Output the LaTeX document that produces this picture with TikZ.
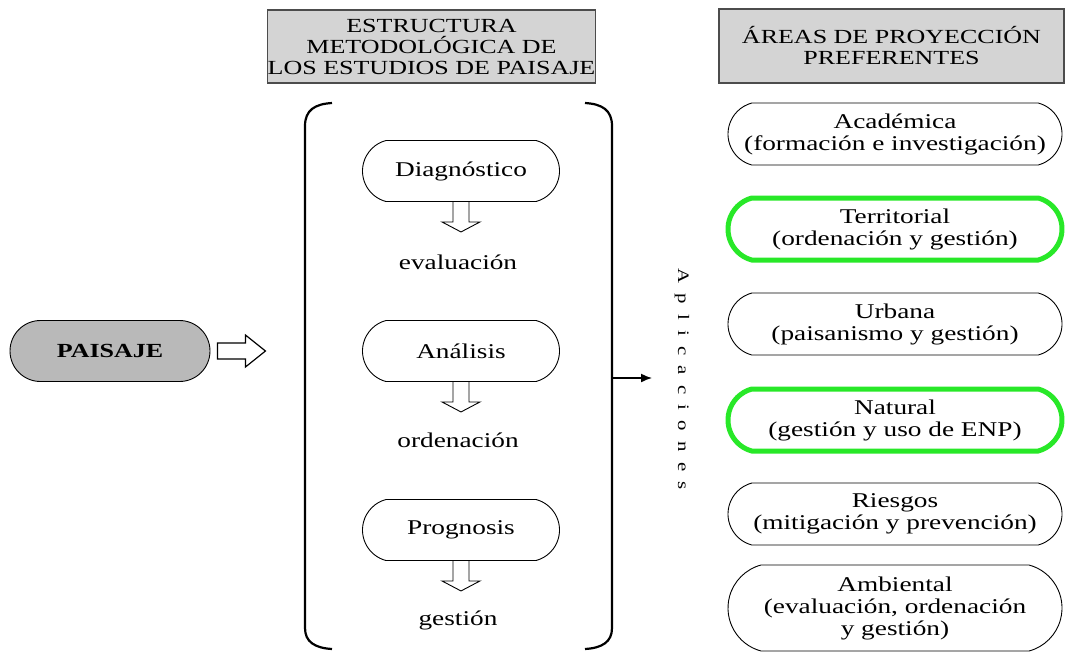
\documentclass[tikz,border=0pt]{standalone}
\usepackage{fontspec}
\setmainfont{Liberation Serif}[FakeStretch=1.3]
\usetikzlibrary{shapes.misc,arrows.meta}
\definecolor{hlgreen}{RGB}{40,232,40}
\definecolor{hdrgray}{RGB}{212,212,212}
\definecolor{pgray}{RGB}{185,185,185}
\tikzset{
  txt/.style={font=\fontsize{21}{23}\selectfont, inner sep=0pt},
  hdr/.style={draw=black!70, line width=1.6pt, fill=hdrgray, align=center,
    font=\fontsize{20}{21}\selectfont, inner sep=0pt},
  stepbox/.style={draw, line width=0.9pt, rounded rectangle, rounded rectangle arc length=150,
    minimum width=197pt, minimum height=61pt, inner sep=0pt, font=\fontsize{21}{23}\selectfont},
  areabox/.style={draw, line width=0.9pt, rounded rectangle, rounded rectangle arc length=150,
    minimum width=334pt, minimum height=62pt, inner sep=0pt, align=center,
    font=\fontsize{21}{22}\selectfont},
  hl/.style={draw=hlgreen, line width=5pt},
  hdown/.pic={\draw[line width=0.9pt] (-8,0) -- (-8,20) -- (-19,20) -- (0,30) -- (19,20) -- (8,20) -- (8,0);},
  hright/.pic={\draw[line width=1.2pt] (0,-8) -- (28,-8) -- (28,-16) -- (48,0) -- (28,16) -- (28,8) -- (0,8) -- cycle;}
}
\begin{document}
\begin{tikzpicture}[x=1pt,y=-1pt]
\useasboundingbox (0,0) rectangle (1068,654);

% left
\node[draw, line width=0.9pt, fill=pgray, rounded rectangle, minimum width=200pt, minimum height=61pt,
  inner sep=0pt, font=\fontsize{20}{22}\selectfont\bfseries] (paisaje) at (110,351) {PAISAJE};
\pic at ([xshift=7pt]paisaje.east) {hright};

% headers
\node[hdr, minimum width=309pt, minimum height=73pt] (h1) at (431.5,46.5)
  {ESTRUCTURA\\METODOLÓGICA DE\\LOS ESTUDIOS DE PAISAJE};
\node[hdr, minimum width=345pt, minimum height=74pt] (h2) at (891.5,46)
  {ÁREAS DE PROYECCIÓN\\PREFERENTES};

% bracket
\draw[line width=2.2pt] (332,103) .. controls (315,104) and (305,110) .. (305,126)
  -- (305,628) .. controls (305,642) and (315,648) .. (332,649);
\draw[line width=2.2pt] (585,103) .. controls (602,104) and (612,110) .. (612,126)
  -- (612,628) .. controls (612,642) and (602,648) .. (585,649);
\coordinate (brk) at (612,378);
\coordinate (aptip) at (652,378);
\draw[line width=1.5pt, -{Latex[length=11pt,width=9pt]}] (brk) -- (aptip);
\node[rotate=-90, inner sep=0pt, font=\fontsize{16}{16}\selectfont\addfontfeature{LetterSpace=64}] (apl) at (682,379) {Aplicaciones};

% steps
\node[stepbox] (diag) at (461,171) {Diagnóstico};
\pic at (diag.south) {hdown};
\node[txt] (eval) at (458,262) {evaluación};
\node[stepbox] (anal) at (461,351) {Análisis};
\pic at (anal.south) {hdown};
\node[txt] (orden) at (458,440) {ordenación};
\node[stepbox] (prog) at (461,530) {Prognosis};
\pic at (prog.south) {hdown};
\node[txt] (gest) at (458,620) {gestión};

% areas
\node[areabox] (acad) at (895,134) {Académica\\(formación e investigación)};
\node[areabox, hl] (terr) at (895,229) {Territorial\\(ordenación y gestión)};
\node[areabox] (urb) at (895,324) {Urbana\\(paisanismo y gestión)};
\node[areabox, hl] (nat) at (895,420) {Natural\\(gestión y uso de ENP)};
\node[areabox] (ries) at (895,514) {Riesgos\\(mitigación y prevención)};
\node[areabox, minimum height=86pt] (amb) at (895,608) {Ambiental\\(evaluación, ordenación\\y gestión)};
\end{tikzpicture}
\end{document}
